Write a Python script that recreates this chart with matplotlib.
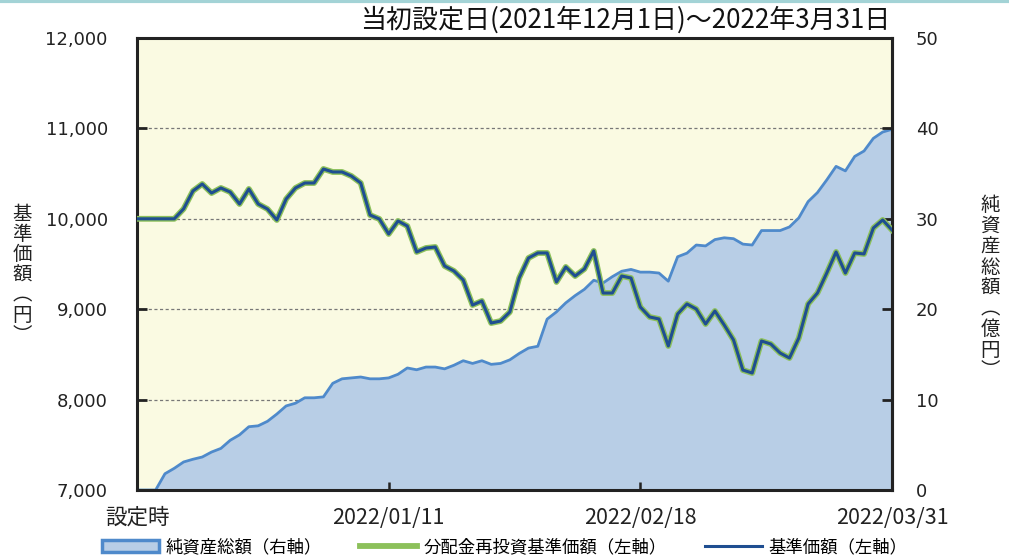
import matplotlib
matplotlib.use("Agg")
import matplotlib.pyplot as plt
from matplotlib.patches import Patch
from matplotlib.lines import Line2D

plt.rcParams['font.family'] = ['Noto Sans CJK JP', 'DejaVu Sans']

# 基準価額 (円), 82 営業日 (設定時 = index 0)
nav = [10000, 10000, 10000, 10000, 10000, 10110, 10308, 10385, 10285, 10341,
       10296, 10164, 10330, 10164, 10108, 9987, 10219, 10341, 10396, 10396,
       10551, 10518, 10518, 10473, 10396, 10042, 9998, 9832, 9976, 9920,
       9633, 9677, 9688, 9478, 9423, 9323, 9046, 9091, 8847, 8869,
       8969, 9345, 9566, 9622, 9622, 9301, 9467, 9367, 9445, 9644,
       9179, 9179, 9367, 9345, 9024, 8914, 8892, 8593, 8947, 9058,
       9002, 8836, 8980, 8825, 8659, 8327, 8294, 8648, 8615, 8515,
       8460, 8681, 9058, 9179, 9400, 9633, 9400, 9622, 9611, 9898,
       9987, 9876]
# 分配金再投資基準価額 (分配なしのため同値)
nav_reinvest = list(nav)
# 純資産総額 (億円)
assets = [0, 0, 0, 1.8, 2.4, 3.1, 3.4, 3.65, 4.2, 4.6,
          5.5, 6.1, 7.0, 7.1, 7.6, 8.4, 9.3, 9.6, 10.2, 10.2,
          10.3, 11.8, 12.3, 12.4, 12.5, 12.3, 12.3, 12.4, 12.8, 13.5,
          13.3, 13.6, 13.6, 13.4, 13.8, 14.3, 14.0, 14.3, 13.9, 14.0,
          14.4, 15.1, 15.7, 15.9, 18.9, 19.7, 20.7, 21.5, 22.2, 23.2,
          22.9, 23.6, 24.2, 24.4, 24.1, 24.1, 24.0, 23.1, 25.8, 26.2,
          27.1, 27.0, 27.7, 27.9, 27.8, 27.2, 27.1, 28.7, 28.7, 28.7,
          29.1, 30.1, 31.9, 32.9, 34.3, 35.8, 35.3, 36.9, 37.5, 38.9,
          39.6, 39.9]

xtick_pos = [0, 27, 54, 81]
xtick_labels = ['設定時', '2022/01/11', '2022/02/18', '2022/03/31']
left_ticks = [7000, 8000, 9000, 10000, 11000, 12000]
right_ticks = [0, 10, 20, 30, 40, 50]

x = list(range(len(nav)))

fig = plt.figure(figsize=(10.09, 5.58), dpi=100)
ax = fig.add_axes([137/1009, 1-490/558, (892-137)/1009, (490-38)/558])
ax2 = ax.twinx()

# background axis (area, grid)
ax.set_zorder(2)
ax2.set_zorder(1)
ax.patch.set_visible(False)
ax2.patch.set_visible(True)
ax2.patch.set_facecolor('#FAFAE2')
ax2.set_axisbelow(True)
ax2.set_ylim(0, 50)
ax2.set_yticks([10, 20, 30, 40])
ax2.yaxis.grid(True, color='#777777', linestyle=(0, (2.5, 2)), linewidth=0.9)
ax2.tick_params(right=False, labelright=False, length=0)
for s in ax2.spines.values():
    s.set_visible(False)

ax2.fill_between(x, assets, 0, color='#B8CEE6', linewidth=0, zorder=1)
ax2.plot(x, assets, color='#4F8ACB', linewidth=2.0, zorder=2)

# lines
ax.plot(x, nav_reinvest, color='#8CC05A', linewidth=4.2, solid_joinstyle='round', zorder=3)
ax.plot(x, nav, color='#1F4E91', linewidth=2.2, solid_joinstyle='round', zorder=4)

ax.set_xlim(0, 81)
ax.set_ylim(7000, 12000)
ax.set_yticks(left_ticks)
ax.set_yticklabels([f'{v:,}' for v in left_ticks], family='DejaVu Sans', fontsize=13)
ax.set_xticks(xtick_pos)
ax.set_xticklabels(xtick_labels, fontsize=15.5)
ax.tick_params(axis='y', direction='in', length=7, width=2, pad=21, colors='#222222')
ax.tick_params(axis='x', direction='in', length=6, width=1.8, pad=12, colors='#222222')
for s in ax.spines.values():
    s.set_linewidth(2.2)
    s.set_color('#222222')

sec = ax.secondary_yaxis('right', functions=(lambda v: (v - 7000) / 100, lambda v: v * 100 + 7000))
sec.set_yticks(right_ticks)
sec.set_yticklabels([str(v) for v in right_ticks], family='DejaVu Sans', fontsize=13)
sec.tick_params(direction='in', length=7, width=2, pad=17, colors='#222222')
sec.spines['right'].set_linewidth(2.2)
sec.spines['right'].set_color('#222222')

# titles and axis labels
fig.text(890/1009, 1-20/558, '当初設定日(2021年12月1日)～2022年3月31日',
         ha='right', va='center', fontsize=18.7, color='#111111')
fig.text(22/1009, 1-275/558, '基\n準\n価\n額\n︵\n円\n︶', ha='center', va='center',
         fontsize=14, linespacing=0.94, color='#222222')
fig.text(990/1009, 1-288/558, '純\n資\n産\n総\n額\n︵\n億\n円\n︶', ha='center', va='center',
         fontsize=14, linespacing=0.98, color='#222222')

# top band
fig.add_artist(Line2D([0, 1], [0.998, 0.998], transform=fig.transFigure, color='#A3D3D6', linewidth=3))

handles = [Patch(facecolor='#B8CEE6', edgecolor='#4F8ACB', linewidth=2.5),
           Line2D([0], [0], color='#8CC05A', linewidth=4.2),
           Line2D([0], [0], color='#1F4E91', linewidth=2.2)]
labels = ['純資産総額（右軸）', '分配金再投資基準価額（左軸）', '基準価額（左軸）']
fig.legend(handles, labels, loc='center left', bbox_to_anchor=(102/1009, 1-547/558), ncol=3,
           frameon=False, fontsize=12.5, handlelength=3.3, handletextpad=0.35,
           columnspacing=2.2, borderaxespad=0, borderpad=0)

fig.savefig('out.png', dpi=100)
